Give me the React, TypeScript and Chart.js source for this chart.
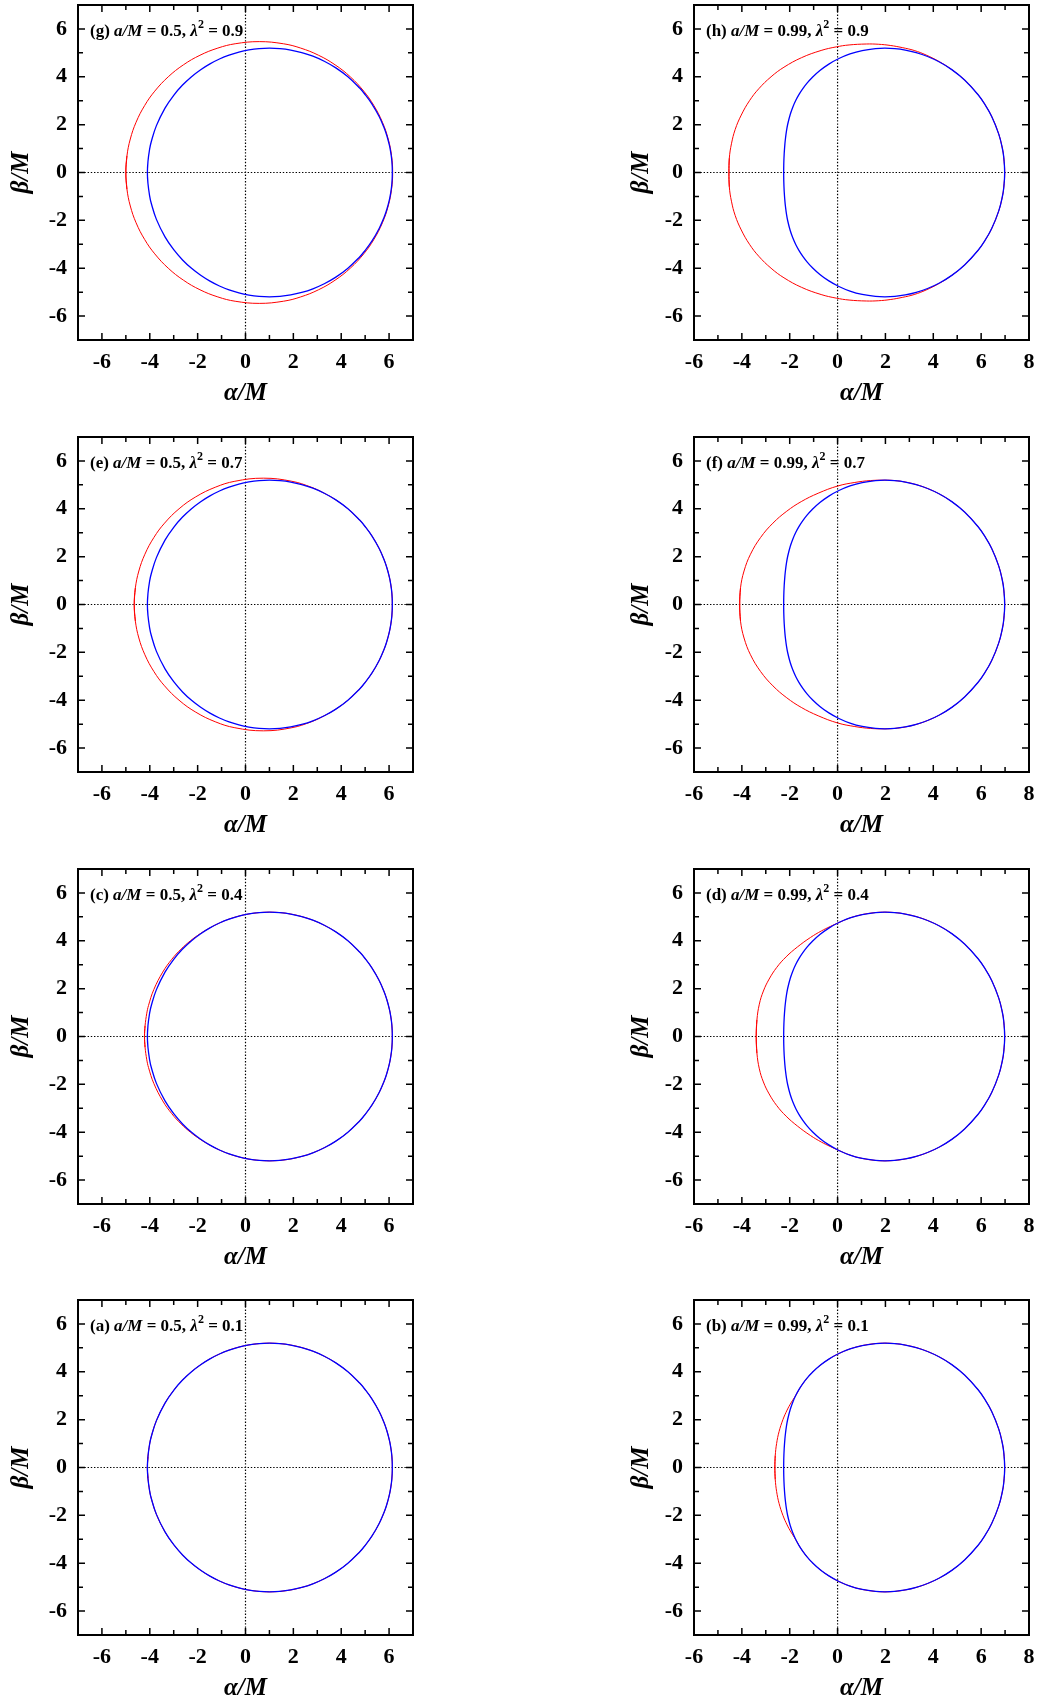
import { useEffect, useRef } from 'react';
import { Chart, registerables } from 'chart.js';

Chart.register(...registerables);

type XY = [number, number];

// ---------------- data (α/M, β/M), upper branch β ≥ 0, ordered left → right ----------------
// Every outline is symmetric about β = 0; the lower branch is its mirror image.

// Blue outlines (same in every panel of a column)
const BLUE_SPIN_05: XY[] = [
  [-4.10, 0], [-4.077, 0.450], [-4.007, 0.974], [-3.936, 1.297], [-3.723, 1.959], [-3.364, 2.691],
  [-3.00, 3.227], [-2.631, 3.654], [-2.255, 4.005], [-1.873, 4.297], [-1.485, 4.541], [-1.089, 4.743],
  [-0.687, 4.906], [-0.277, 5.032], [0.141, 5.122], [0.566, 5.177], [1.00, 5.196], [1.442, 5.177],
  [1.891, 5.117], [2.350, 5.013], [2.816, 4.860], [3.292, 4.649], [3.776, 4.371], [4.268, 4.007],
  [4.77, 3.528], [4.973, 3.292], [5.281, 2.872], [5.591, 2.331], [5.80, 1.852], [5.905, 1.546],
  [6.01, 1.151], [6.063, 0.884], [6.116, 0.481], [6.136, 0],
];
const BLUE_SPIN_099: XY[] = [
  [-2.252, 0], [-2.248, 0.353], [-2.231, 0.781], [-2.201, 1.195], [-2.174, 1.451], [-2.138, 1.716],
  [-2.084, 2.017], [-1.979, 2.426], [-1.868, 2.741], [-1.744, 3.018], [-1.603, 3.273], [-1.444, 3.514],
  [-1.267, 3.743], [-1.070, 3.959], [-0.739, 4.260], [-0.364, 4.530], [0.056, 4.763], [0.520, 4.955],
  [1.030, 5.096], [1.585, 5.179], [1.980, 5.196], [2.395, 5.178], [2.830, 5.118], [3.286, 5.011],
  [3.761, 4.848], [4.257, 4.617], [4.773, 4.299], [5.308, 3.865], [5.865, 3.260], [6.150, 2.857],
  [6.441, 2.341], [6.736, 1.603], [6.886, 1.013], [6.946, 0.626], [6.984, 0],
];

// Red outlines, one per panel
const RED_G: XY[] = [
  [-5.00, 0], [-4.954, 0.7], [-4.814, 1.4], [-4.573, 2.1], [-4.214, 2.8], [-3.792, 3.4],
  [-3.228, 4.0], [-2.594, 4.5], [-1.903, 4.9], [-1.155, 5.2], [-0.432, 5.38], [0.575, 5.47],
  [1.582, 5.38], [2.305, 5.2], [3.053, 4.9], [3.744, 4.5], [4.378, 4.0], [4.942, 3.4],
  [5.364, 2.8], [5.723, 2.1], [5.964, 1.4], [6.104, 0.7], [6.15, 0],
];
const RED_E: XY[] = [
  [-4.65, 0], [-4.602, 0.7], [-4.457, 1.4], [-4.205, 2.1], [-3.829, 2.8], [-3.383, 3.4],
  [-2.777, 4.0], [-2.077, 4.5], [-1.265, 4.9], [-0.445, 5.15], [0.745, 5.28], [1.935, 5.15],
  [2.755, 4.9], [3.292, 4.649], [3.776, 4.371], [4.268, 4.007], [4.77, 3.528], [4.973, 3.292],
  [5.281, 2.872], [5.591, 2.331], [5.80, 1.852], [5.905, 1.546], [6.01, 1.151], [6.063, 0.884],
  [6.116, 0.481], [6.136, 0],
];
const RED_C: XY[] = [
  [-4.22, 0], [-4.197, 0.450], [-4.125, 0.974], [-4.053, 1.297], [-3.833, 1.959], [-3.459, 2.691],
  [-3.08, 3.227], [-2.691, 3.654], [-2.295, 4.005], [-1.893, 4.297], [-1.485, 4.541], [-1.089, 4.743],
  [-0.687, 4.906], [-0.277, 5.032], [0.141, 5.122], [0.566, 5.177], [1.00, 5.196], [1.442, 5.177],
  [1.891, 5.117], [2.350, 5.013], [2.816, 4.860], [3.292, 4.649], [3.776, 4.371], [4.268, 4.007],
  [4.77, 3.528], [4.973, 3.292], [5.281, 2.872], [5.591, 2.331], [5.80, 1.852], [5.905, 1.546],
  [6.01, 1.151], [6.063, 0.884], [6.116, 0.481], [6.136, 0],
];
const RED_A: XY[] = [
  [-4.10, 0], [-4.077, 0.450], [-4.007, 0.974], [-3.936, 1.297], [-3.723, 1.959], [-3.364, 2.691],
  [-3.00, 3.227], [-2.631, 3.654], [-2.255, 4.005], [-1.873, 4.297], [-1.485, 4.541], [-1.089, 4.743],
  [-0.687, 4.906], [-0.277, 5.032], [0.141, 5.122], [0.566, 5.177], [1.00, 5.196], [1.442, 5.177],
  [1.891, 5.117], [2.350, 5.013], [2.816, 4.860], [3.292, 4.649], [3.776, 4.371], [4.268, 4.007],
  [4.77, 3.528], [4.973, 3.292], [5.281, 2.872], [5.591, 2.331], [5.80, 1.852], [5.905, 1.546],
  [6.01, 1.151], [6.063, 0.884], [6.116, 0.481], [6.136, 0],
];
const RED_H: XY[] = [
  [-4.54, 0], [-4.524, 0.6], [-4.435, 1.2], [-4.278, 1.8], [-4.025, 2.4], [-3.681, 3.0],
  [-3.293, 3.5], [-2.78, 4.0], [-2.241, 4.4], [-1.504, 4.8], [-0.687, 5.1], [-0.056, 5.25],
  [0.481, 5.33], [1.20, 5.37], [1.70, 5.36], [2.20, 5.31], [2.70, 5.22], [3.20, 5.10],
  [3.70, 4.91], [4.257, 4.63], [4.773, 4.299], [5.308, 3.865], [5.865, 3.260], [6.150, 2.857],
  [6.441, 2.341], [6.736, 1.603], [6.886, 1.013], [6.946, 0.626], [6.984, 0],
];
const RED_F: XY[] = [
  [-4.09, 0], [-4.056, 0.7], [-3.909, 1.4], [-3.64, 2.1], [-3.218, 2.8], [-2.702, 3.4],
  [-2.122, 3.9], [-1.518, 4.3], [-0.811, 4.65], [0.00, 4.95], [0.72, 5.10], [1.375, 5.18],
  [1.980, 5.196], [2.395, 5.178], [2.830, 5.118], [3.286, 5.011], [3.761, 4.848], [4.257, 4.617],
  [4.773, 4.299], [5.308, 3.865], [5.865, 3.260], [6.150, 2.857], [6.441, 2.341], [6.736, 1.603],
  [6.886, 1.013], [6.946, 0.626], [6.984, 0],
];
const RED_D: XY[] = [
  [-3.40, 0], [-3.37, 0.7], [-3.27, 1.35], [-3.10, 1.9], [-2.86, 2.4], [-2.54, 2.89],
  [-2.15, 3.33], [-1.68, 3.74], [-1.13, 4.14], [-0.68, 4.41], [-0.30, 4.60], [0.056, 4.763],
  [0.520, 4.955], [1.030, 5.096], [1.585, 5.179], [1.980, 5.196], [2.395, 5.178], [2.830, 5.118],
  [3.286, 5.011], [3.761, 4.848], [4.257, 4.617], [4.773, 4.299], [5.308, 3.865], [5.865, 3.260],
  [6.150, 2.857], [6.441, 2.341], [6.736, 1.603], [6.886, 1.013], [6.946, 0.626], [6.984, 0],
];
const RED_B: XY[] = [
  [-2.62, 0], [-2.604, 0.5], [-2.548, 1.0], [-2.445, 1.5], [-2.284, 2.0], [-2.109, 2.4],
  [-1.946, 2.7], [-1.744, 3.018], [-1.603, 3.273], [-1.444, 3.514], [-1.267, 3.743], [-1.070, 3.959],
  [-0.739, 4.260], [-0.364, 4.530], [0.056, 4.763], [0.520, 4.955], [1.030, 5.096], [1.585, 5.179],
  [1.980, 5.196], [2.395, 5.178], [2.830, 5.118], [3.286, 5.011], [3.761, 4.848], [4.257, 4.617],
  [4.773, 4.299], [5.308, 3.865], [5.865, 3.260], [6.150, 2.857], [6.441, 2.341], [6.736, 1.603],
  [6.886, 1.013], [6.946, 0.626], [6.984, 0],
];

// Panels in page order (row by row, left then right)
const PANEL_TAGS = ['g', 'h', 'e', 'f', 'c', 'd', 'a', 'b'];
const PANEL_SPIN = ['0.5', '0.99', '0.5', '0.99', '0.5', '0.99', '0.5', '0.99'];
const PANEL_LAMBDA2 = ['0.9', '0.9', '0.7', '0.7', '0.4', '0.4', '0.1', '0.1'];
const PANEL_RED = [RED_G, RED_H, RED_E, RED_F, RED_C, RED_D, RED_A, RED_B];
const PANEL_BLUE = [BLUE_SPIN_05, BLUE_SPIN_099, BLUE_SPIN_05, BLUE_SPIN_099, BLUE_SPIN_05, BLUE_SPIN_099, BLUE_SPIN_05, BLUE_SPIN_099];

// Axes
const X_RANGE_SPIN_05 = [-7, 7];
const X_RANGE_SPIN_099 = [-6, 8];
const Y_RANGE = [-7, 7];
const X_TICKS_SPIN_05 = [-6, -4, -2, 0, 2, 4, 6];
const X_MINOR_SPIN_05 = [-5, -3, -1, 1, 3, 5];
const X_TICKS_SPIN_099 = [-6, -4, -2, 0, 2, 4, 6, 8];
const X_MINOR_SPIN_099 = [-5, -3, -1, 1, 3, 5, 7];
const Y_TICKS = [-6, -4, -2, 0, 2, 4, 6];
const Y_MINOR = [-5, -3, -1, 1, 3, 5];

// ---------------- layout / style ----------------
const CANVAS_W = 420;
const CANVAS_H = 405;
const PLOT = 335;
const TOP_PAD = 5;
const COLUMN_X = [0, 620];
const PLOT_LEFT = [78, 74];
const ROW_PLOT_TOP = [5, 437, 869, 1300];
const SERIF = '"Liberation Serif", "Times New Roman", serif';
const BLUE = '#0000ff';
const RED = '#ff0000';

// Closed outline: upper branch + mirrored lower branch, wrapped so the spline is smooth at the seam
function outline(upper: XY[]) {
  const lower = upper.slice(1, -1).reverse().map(([a, b]) => [a, -b] as XY);
  const ring = [...upper, ...lower];
  const n = ring.length;
  const path = [ring[n - 1], ...ring, ring[0], ring[1]];
  return path.map(([x, y]) => ({ x, y }));
}

function Panel({ index }: { index: number }) {
  const ref = useRef<HTMLCanvasElement | null>(null);
  const col = index % 2;
  const row = Math.floor(index / 2);

  useEffect(() => {
    if (!ref.current) return;
    const wide = col === 1;
    const xRange = wide ? X_RANGE_SPIN_099 : X_RANGE_SPIN_05;
    const xTicks = wide ? X_TICKS_SPIN_099 : X_TICKS_SPIN_05;
    const xMinor = wide ? X_MINOR_SPIN_099 : X_MINOR_SPIN_05;
    const plotLeft = PLOT_LEFT[col];

    const decor = {
      id: 'decor',
      beforeDatasetsDraw(chart: any) {
        const { ctx, chartArea } = chart;
        const { left, right, top, bottom } = chartArea;
        const x0 = chart.scales.x.getPixelForValue(0);
        const y0 = chart.scales.y.getPixelForValue(0);
        ctx.save();
        ctx.strokeStyle = '#000';
        ctx.lineWidth = 1.2;
        ctx.setLineDash([1.4, 1.8]);
        ctx.beginPath();
        ctx.moveTo(x0, top);
        ctx.lineTo(x0, bottom);
        ctx.moveTo(left, y0);
        ctx.lineTo(right, y0);
        ctx.stroke();
        ctx.restore();
      },
      afterDraw(chart: any) {
        const { ctx, chartArea } = chart;
        const { left, right, top, bottom } = chartArea;
        const sx = chart.scales.x;
        const sy = chart.scales.y;
        ctx.save();
        ctx.strokeStyle = '#000';
        ctx.lineWidth = 1.5;
        ctx.beginPath();
        const tickX = (vals: number[], len: number) => {
          vals.forEach((v) => {
            const p = sx.getPixelForValue(v);
            ctx.moveTo(p, bottom);
            ctx.lineTo(p, bottom - len);
            ctx.moveTo(p, top);
            ctx.lineTo(p, top + len);
          });
        };
        const tickY = (vals: number[], len: number) => {
          vals.forEach((v) => {
            const p = sy.getPixelForValue(v);
            ctx.moveTo(left, p);
            ctx.lineTo(left + len, p);
            ctx.moveTo(right, p);
            ctx.lineTo(right - len, p);
          });
        };
        tickX(xTicks, 7);
        tickX(xMinor, 5);
        tickY(Y_TICKS, 7);
        tickY(Y_MINOR, 5);
        ctx.stroke();
        ctx.lineWidth = 2;
        ctx.strokeRect(left, top, right - left, bottom - top);

        // axis titles
        ctx.fillStyle = '#000';
        ctx.font = `italic bold 25px ${SERIF}`;
        ctx.textAlign = 'center';
        ctx.textBaseline = 'alphabetic';
        ctx.fillText('α/M', (left + right) / 2, bottom + 60);
        ctx.save();
        ctx.translate(28, (top + bottom) / 2);
        ctx.rotate(-Math.PI / 2);
        ctx.fillText('β/M', 0, 0);
        ctx.restore();

        // panel label
        const parts: [string, string, number][] = [
          [`(${PANEL_TAGS[index]}) `, `bold 17px ${SERIF}`, 0],
          ['a/M', `italic bold 17px ${SERIF}`, 0],
          [` = ${PANEL_SPIN[index]}, `, `bold 17px ${SERIF}`, 0],
          ['λ', `italic bold 17px ${SERIF}`, 0],
          ['2', `bold 12px ${SERIF}`, -8],
          [` = ${PANEL_LAMBDA2[index]}`, `bold 17px ${SERIF}`, 0],
        ];
        ctx.textAlign = 'left';
        let x = left + 12;
        const base = top + 31;
        parts.forEach(([txt, font, dy]) => {
          ctx.font = font;
          ctx.fillText(txt, x, base + dy);
          x += ctx.measureText(txt).width;
        });
        ctx.restore();
      },
    };

    const lineStyle = { showLine: true, pointRadius: 0, tension: 0.4, fill: false };

    const chart = new Chart(ref.current, {
      type: 'scatter',
      data: {
        datasets: [
          { ...lineStyle, data: outline(PANEL_BLUE[index]), borderColor: BLUE, borderWidth: 1.3 },
          { ...lineStyle, data: outline(PANEL_RED[index]), borderColor: RED, borderWidth: 1.0 },
        ],
      },
      options: {
        responsive: false,
        animation: false,
        events: [],
        layout: {
          padding: { left: 0, top: TOP_PAD, right: CANVAS_W - (plotLeft + PLOT), bottom: 0 },
        },
        plugins: {
          legend: { display: false },
          tooltip: { enabled: false },
          title: { display: false },
        },
        scales: {
          x: {
            type: 'linear',
            position: 'bottom',
            min: xRange[0],
            max: xRange[1],
            grid: { display: false, drawTicks: false },
            border: { display: false },
            ticks: {
              color: '#000',
              font: { family: SERIF, size: 22, weight: 'bold' },
              padding: 9,
              autoSkip: false,
              maxRotation: 0,
            },
            afterBuildTicks: (s: any) => {
              s.ticks = xTicks.map((v) => ({ value: v }));
            },
            afterFit: (s: any) => {
              s.height = CANVAS_H - TOP_PAD - PLOT;
              s.paddingLeft = 0;
              s.paddingRight = 0;
            },
          },
          y: {
            type: 'linear',
            position: 'left',
            min: Y_RANGE[0],
            max: Y_RANGE[1],
            grid: { display: false, drawTicks: false },
            border: { display: false },
            ticks: {
              color: '#000',
              font: { family: SERIF, size: 22, weight: 'bold' },
              padding: 11,
              autoSkip: false,
            },
            afterBuildTicks: (s: any) => {
              s.ticks = Y_TICKS.map((v) => ({ value: v }));
            },
            afterFit: (s: any) => {
              s.width = plotLeft;
              s.paddingTop = 0;
              s.paddingBottom = 0;
            },
          },
        },
      } as any,
      plugins: [decor],
    });
    return () => chart.destroy();
  }, [index, col]);

  return (
    <canvas
      ref={ref}
      width={CANVAS_W}
      height={CANVAS_H}
      style={{
        position: 'absolute',
        left: COLUMN_X[col],
        top: ROW_PLOT_TOP[row] - TOP_PAD,
        width: CANVAS_W,
        height: CANVAS_H,
      }}
    />
  );
}

export default function App() {
  return (
    <div
      style={{
        position: 'absolute',
        left: 0,
        top: 0,
        width: 1040,
        height: 1704,
        overflow: 'hidden',
        background: '#fff',
      }}
    >
      {PANEL_TAGS.map((_, i) => (
        <Panel key={i} index={i} />
      ))}
    </div>
  );
}
